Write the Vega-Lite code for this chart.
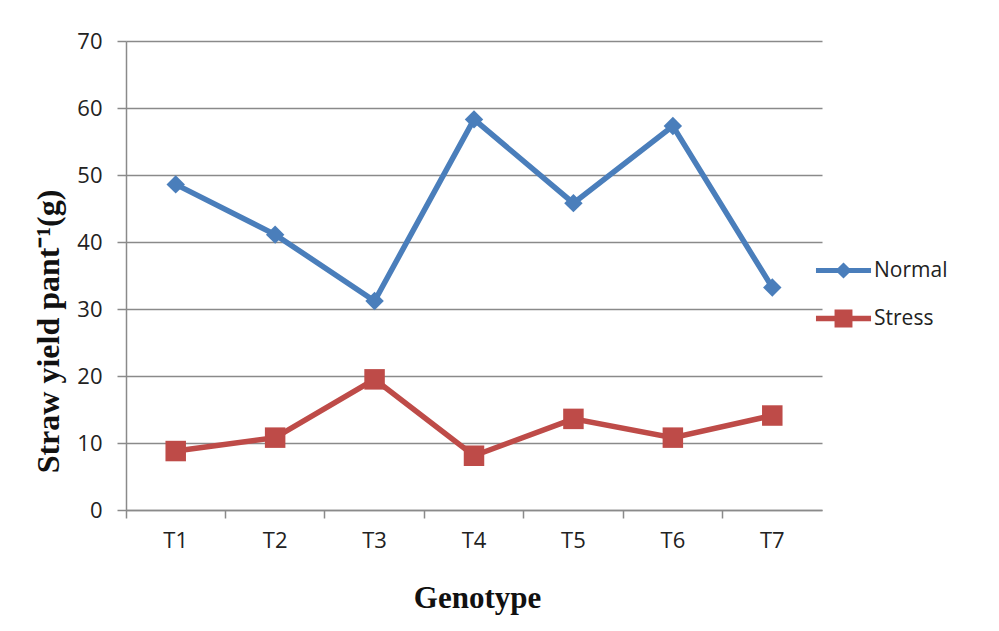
{
  "$schema": "https://vega.github.io/schema/vega-lite/v6.json",
  "width": 696,
  "height": 469,
  "autosize": {"type": "none"},
  "padding": {"left": 126, "top": 41, "right": 177, "bottom": 121},
  "background": "white",
  "config": {"view": {"stroke": null}},
  "data": {"values": [
    {"genotype": "T1", "series": "Normal", "value": 48.6},
    {"genotype": "T2", "series": "Normal", "value": 41.1},
    {"genotype": "T3", "series": "Normal", "value": 31.2},
    {"genotype": "T4", "series": "Normal", "value": 58.3},
    {"genotype": "T5", "series": "Normal", "value": 45.8},
    {"genotype": "T6", "series": "Normal", "value": 57.3},
    {"genotype": "T7", "series": "Normal", "value": 33.2},
    {"genotype": "T1", "series": "Stress", "value": 8.8},
    {"genotype": "T2", "series": "Stress", "value": 10.8},
    {"genotype": "T3", "series": "Stress", "value": 19.5},
    {"genotype": "T4", "series": "Stress", "value": 8.1},
    {"genotype": "T5", "series": "Stress", "value": 13.6},
    {"genotype": "T6", "series": "Stress", "value": 10.8},
    {"genotype": "T7", "series": "Stress", "value": 14.1}
  ]},
  "encoding": {
    "x": {
      "field": "genotype", "type": "nominal",
      "scale": {"type": "band", "paddingInner": 0, "paddingOuter": 0},
      "axis": {
        "title": "Genotype",
        "titleFont": "Liberation Serif", "titleFontSize": 31, "titleFontWeight": "bold", "titleColor": "#111",
        "titleBaseline": "alphabetic", "titleY": 97, "titleX": 351,
        "labelFont": "Open Sans", "labelFontSize": 22, "labelColor": "#222", "labelAngle": 0,
        "labelPadding": 12, "labelOffset": 0,
        "bandPosition": 0,
        "tickSize": 8, "tickColor": "#8a8a8a", "tickWidth": 1.5,
        "domainColor": "#8a8a8a", "domainWidth": 1.5,
        "grid": false
      }
    },
    "y": {
      "field": "value", "type": "quantitative",
      "scale": {"domain": [0, 70], "nice": false, "zero": true},
      "axis": {
        "title": "Straw yield pant⁻¹(g)",
        "titleFont": "Liberation Serif", "titleFontSize": 32, "titleFontWeight": "bold", "titleColor": "#111",
        "titleAngle": -90, "titleAlign": "center", "titleBaseline": "alphabetic",
        "titleX": -68, "titleY": 290,
        "values": [0, 10, 20, 30, 40, 50, 60, 70],
        "labelFont": "Open Sans", "labelFontSize": 22, "labelColor": "#222",
        "labelPadding": 15,
        "tickSize": 9, "tickColor": "#8a8a8a", "tickWidth": 1.5,
        "domainColor": "#8a8a8a", "domainWidth": 1.5,
        "grid": true, "gridColor": "#8a8a8a", "gridWidth": 1.5
      }
    }
  },
  "layer": [
    {
      "mark": {"type": "line", "strokeWidth": 5.5},
      "encoding": {
        "detail": {"field": "series", "type": "nominal"},
        "stroke": {"condition": {"test": "datum.series === 'Normal'", "value": "#4a7ebb"}, "value": "#be4b48"}
      }
    },
    {
      "mark": {"type": "point", "filled": true, "opacity": 1},
      "encoding": {
        "fill": {"condition": {"test": "datum.series === 'Normal'", "value": "#4a7ebb"}, "value": "#be4b48"},
        "shape": {"condition": {"test": "datum.series === 'Normal'", "value": "diamond"}, "value": "square"},
        "size": {"condition": {"test": "datum.series === 'Normal'", "value": 340}, "value": 420}
      }
    },
    {
      "transform": [{"filter": "datum.genotype === 'T1'"}],
      "mark": {"type": "point", "filled": true, "size": 256, "opacity": 0},
      "encoding": {
        "color": {"field": "series", "type": "nominal",
          "scale": {"domain": ["Normal", "Stress"], "range": ["#4a7ebb", "#be4b48"]},
          "legend": {
            "title": null, "orient": "none", "legendX": 707, "legendY": 219,
            "padding": 0, "symbolSize": 256, "symbolOpacity": 1, "symbolStrokeWidth": 0,
            "labelFont": "Open Sans", "labelFontSize": 21, "labelColor": "#222",
            "labelOffset": 20, "rowPadding": 26
          }},
        "shape": {"field": "series", "type": "nominal",
          "scale": {"domain": ["Normal", "Stress"], "range": [
            "M-3.44,-0.3 L-0.7,-0.3 L0,-1 L0.7,-0.3 L3.44,-0.3 L3.44,0.3 L0.7,0.3 L0,1 L-0.7,0.3 L-3.44,0.3 Z",
            "M-3.44,-0.34 L-1.12,-0.34 L-1.12,-1.12 L1.12,-1.12 L1.12,-0.34 L3.44,-0.34 L3.44,0.34 L1.12,0.34 L1.12,1.12 L-1.12,1.12 L-1.12,0.34 L-3.44,0.34 Z"
          ]},
          "legend": {
            "title": null, "orient": "none", "legendX": 707, "legendY": 219,
            "padding": 0, "symbolSize": 256, "symbolOpacity": 1, "symbolStrokeWidth": 0,
            "labelFont": "Open Sans", "labelFontSize": 21, "labelColor": "#222",
            "labelOffset": 20, "rowPadding": 26
          }}
      }
    }
  ]
}
